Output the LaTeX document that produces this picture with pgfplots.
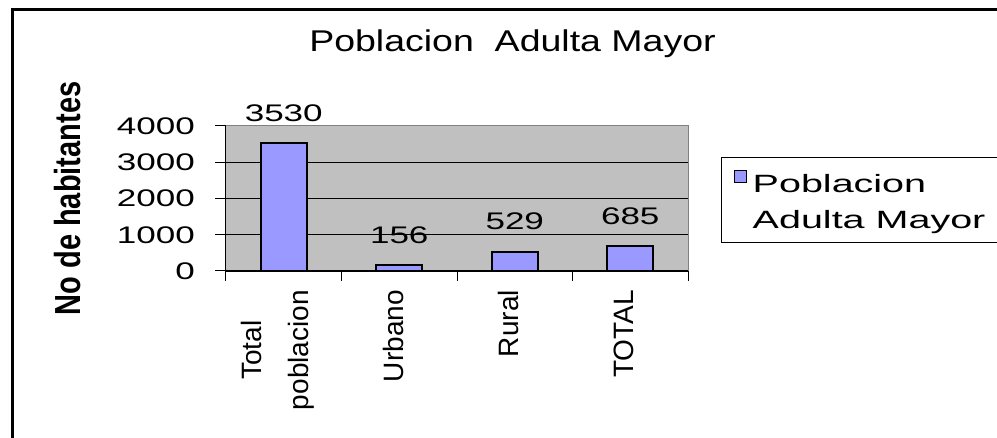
\documentclass[border=0pt]{standalone}
\usepackage{fontspec}
\setmainfont{Liberation Sans}
\newfontfamily\titlefont{Liberation Sans}[FakeStretch=1.25]
\newfontfamily\tickfont{Liberation Sans}[FakeStretch=1.46]
\newfontfamily\legfont{Liberation Sans}[FakeStretch=1.58]
\usepackage{pgfplots}
\pgfplotsset{compat=1.18}
\definecolor{plotbg}{HTML}{C0C0C0}
\definecolor{barcol}{HTML}{9999FF}
\definecolor{bordergray}{HTML}{808080}
\begin{document}
\begin{tikzpicture}[x=1pt,y=1pt]
\useasboundingbox (0,0) rectangle (997,438);
\draw[line width=3pt] (12.5,-10) -- (12.5,428.5) -- (1010,428.5);
\node[anchor=base, inner sep=0pt, font=\titlefont\fontsize{30}{36}\selectfont] at (512.5,386) {Poblacion\ \ Adulta Mayor};
\begin{axis}[
  at={(226pt,167pt)}, anchor=south west,
  scale only axis, width=462pt, height=145pt,
  xmin=-0.5, xmax=3.5, ymin=0, ymax=4000,
  ybar, bar width=46pt,
  axis lines=left, axis line style={-, black, line width=1pt},
  axis background/.style={fill=plotbg, draw=bordergray, line width=1pt},
  ytick={0,1000,2000,3000},
  extra y ticks={4000},
  extra y tick style={grid=none},
  ymajorgrids, grid style={black, line width=0.8pt},
  xtick={0,1,2,3},
  xticklabels={{Total\\poblacion},Urbano,Rural,TOTAL},
  minor xtick={-0.5,0.5,1.5,2.5,3.5},
  tick align=outside,
  major tick length=11pt, minor tick length=10pt,
  every major x tick/.append style={draw=none},
  every minor x tick/.append style={black, line width=1pt},
  every major y tick/.append style={black, line width=1pt},
  /pgf/number format/1000 sep={},
  /pgf/number format/assume math mode=true,
  yticklabel style={font=\tickfont\fontsize{24}{28}\selectfont, inner sep=0pt, anchor=east},
  yticklabel shift=20pt,
  x tick label style={font=\fontsize{28}{47}\selectfont, xshift=-6pt, rotate=90, anchor=east, align=center, inner sep=0pt},
  xticklabel shift=8pt,
  ylabel={\scalebox{1}[1.25]{\bfseries No de habitantes}},
  ylabel style={font=\fontsize{29}{34}\selectfont, at={(axis description cs:-0.342,0.5)}, anchor=center, inner sep=0pt},
  nodes near coords,
  every node near coord/.append style={font=\tickfont\fontsize{24}{28}\selectfont, anchor=base, yshift=22pt, black, inner sep=0pt},
  legend style={at={(1.0708,0.786)}, anchor=north west, draw=black, line width=1pt, fill=white, inner sep=0pt,
    font=\legfont\fontsize{25}{36}\selectfont, nodes={anchor=base west, inner xsep=6pt, inner ysep=0pt}},
  legend image code/.code={\path (0pt,0pt); \draw[fill=barcol, draw=black, line width=1.2pt] (12pt,58pt) rectangle (24pt,70pt);},
]
\addplot[fill=barcol, draw=black, line width=1.8pt] coordinates {(0,3530) (1,156) (2,529) (3,685)};
\addlegendentry{\raisebox{12pt}{\begin{tabular}[b]{@{}l@{\hspace{20pt}}}\rule{0pt}{35pt}Poblacion\\Adulta Mayor\rule[-12pt]{0pt}{12pt}\end{tabular}}}
\end{axis}
\end{tikzpicture}
\end{document}
